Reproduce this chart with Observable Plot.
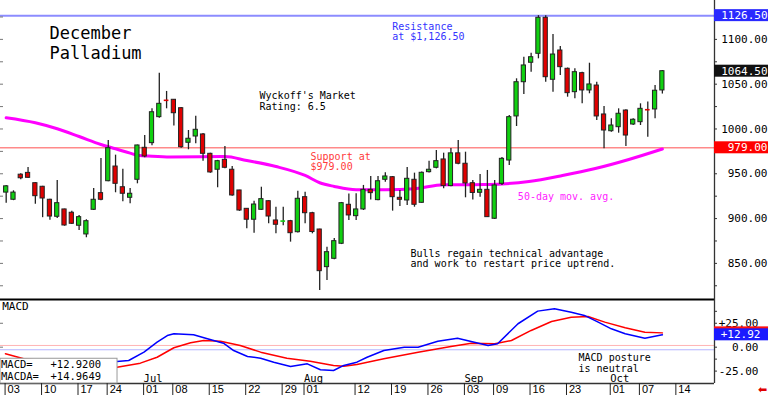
<!DOCTYPE html>
<html><head><meta charset="utf-8">
<script src="https://cdn.jsdelivr.net/npm/d3@7"></script>
<script src="https://cdn.jsdelivr.net/npm/@observablehq/plot@0.6"></script>
<style>
body{margin:0;background:#fff;}
#chart{width:768px;height:395px;overflow:hidden;background:#fff;}
#chart svg{display:block;}
g[aria-label="title"] text{letter-spacing:1px;}
g[aria-label="note"] text{letter-spacing:0.25px;}
g[aria-label="axis-labels"] text{letter-spacing:0.6px;}
g[aria-label="legend"] text{letter-spacing:0.9px;}
</style></head><body><div id="chart"></div>
<script>
// ---- Data: daily candles, trading-day index 0..90 (Jun 3 .. Oct 10, 2019) ----
const opens  = [929,921,949,951,939.5,935.5,921,902,910.2,906.5,892,882.3,909.8,928.4,941.7,958.1,935,923.2,943.3,979,
                984.2,1013.2,1033,1032.6,1023.2,984.6,991.6,993.9,972.3,954.5,965.6,954.5,931.4,910.9,898.7,909.8,919.4,897.9,896.6,897.1,
                884.8,923.9,906,887.8,845.8,855.1,871.9,915.4,902.7,910.2,932.1,920.6,943.3,946.2,923.2,920.2,943.3,917.6,951.8,956.7,
                966,936.3,972.8,961.2,939.5,928.8,932.1,899.8,938.8,964.8,1014,1052.2,1073.9,1083.9,1124.1,1054.9,1087.6,1067.2,1041.1,1062.3,
                1043,1048.5,1016.2,997.5,1002,1020.6,1005,1007.6,1022.5,1021.8,1043];
const highs  = [937,931,950,957,940,936,921.5,942.5,910.5,908.3,903.5,898.7,933.6,967.1,987.2,970.8,955.1,933.6,982,992.7,
                1022.5,1062.3,1041.9,1033,1024,998.3,1014.3,995,973,965,980.5,958.2,931.5,911,919.4,935,920,912.7,912.7,898,
                930.6,929.5,907,888,868.1,877.8,918,927.4,927.7,937,947,947,951.1,947,931.4,957,950.7,952,964.1,976,
                973,978.2,987.2,974.1,942.5,949.2,953.7,942.5,968.2,1015,1056,1080.1,1084.6,1126.5,1126.5,1105.5,1092,1068,1067.2,1063.4,
                1073.4,1052.2,1025.1,1011.4,1022.5,1021.4,1011.4,1028.1,1030,1048.5,1065.3];
const lows   = [917,920,943.3,945,916,901,898,900,891.5,893.4,886.7,878.6,909,920,941,928.8,918.8,916.5,938.8,967.9,
                981.3,1012,1022.5,1003.3,978.5,976.8,983.5,964.1,950.5,934.4,955.5,925,908,888.6,883.7,909,894.2,883,892,873.7,
                884,894.2,883,819.8,830.9,854,871,897.9,897.9,909,920.6,920,940.6,908.3,913.5,914.6,912.7,917,951,955.5,
                933.3,935.5,960,923.2,920.6,923.9,901.5,899,937,959.3,1002.8,1038.5,1063.4,1078.3,1052.2,1041.1,1059.7,1035.5,1033.7,1028.1,
                1039.3,1009.5,977.9,996.4,995.3,980.5,1003.9,1003.9,990.9,1011.4,1039];
const closes = [936,929,945,945.5,925,922.4,902.3,917.2,892.3,894.2,901.6,897.1,921,921,978.6,938.8,927.7,927.7,981.6,969.3,
                1018.7,1028.1,1032,1017.6,979.7,989.1,999.1,972.3,951.5,964.1,956.7,925.8,909,898.7,915.7,921.7,902.3,893.1,897.2,883.7,
                922.1,906,885,841.3,862.5,874.8,917.2,903.5,910.2,932.1,928.4,941.7,947,923.9,921,944.4,915.4,951.1,954.5,964.1,
                936.3,972.8,961.2,939.2,928.6,932.1,901.6,937,966.7,1013.2,1052.2,1070.9,1080.1,1124.1,1057.8,1083.1,1069,1040,1063.4,1043,
                1049.7,1014,998.3,1003.9,1017,992.7,1010.3,1022.5,1021.5,1042.7,1064.5];

// 50-day moving average, read at sample days
const maIdx = [0,4,7,10,13,15,17,18,20,22.5,30,33,37,41,43,45,48,52,56,60,65.5,68,71.7,76.3,80.8,85.4,90];
const maVal = [1012.5,1006.9,1000.2,991.6,982.7,977.9,973,970.8,969.6,968.8,969.3,964.8,958.1,948.1,940,935.9,932.1,932.1,933.3,937.7,938,938.6,941.4,948.1,955.9,966,977.7];

// MACD (blue) and MACD average (red), read at sample days
const macdIdx = [15.2,16.8,18.9,20.7,22.1,23.0,25.7,27.6,29.8,31.2,33.1,34.9,36.7,39.0,41.3,43.1,44.9,46.3,48.1,49.5,51.8,54.6,56.5,59.2,61.9,64.2,66.1,67.4,70.2,72.9,75.2,77.5,79.3,81.2,83.0,84.9,87.6,90];
const macdVal = [-15.0,-13.9,-5.2,5.2,12.2,14.0,13.0,8.8,4.2,-3.5,-9.7,-11.5,-15.7,-20.2,-17.4,-23.6,-24.4,-19.1,-15.7,-10.5,-3.5,0,0,6.3,9.4,5.2,1.8,3.6,24.5,37.7,40.2,36.6,33.2,26.2,19.2,14.0,9.4,12.92];
const sigIdx = [-0.1,2.4,15.2,18.4,20.7,23.0,25.3,27.1,29.4,32.1,34.9,38.5,41.7,44.9,46.3,48.1,51.8,56.5,61.0,63.8,67.0,69.3,72.0,74.8,77.5,79.8,82.1,84.9,87.6,90];
const sigVal = [-6.9,-12.1,-20.9,-16.7,-10.5,-0.6,4.6,7.0,6.3,1.8,-5.2,-11.5,-14.6,-19.1,-19.9,-18.1,-12.1,-5.2,0.7,4.2,3.6,7.0,17.5,26.9,31.4,32.1,26.2,20.3,15.7,14.96];

// Axis labels
const dayLabels = ["03","10","17","24","01","08","15","22","29","01","12","19","26","03","09","16","23","01","07","14"];
const dayIdx    = [0,5,10,14,19,23,28,33,38,41,48,53,58,63,67,72,77,83,87,92];
const monthLabels = ["Jul","Aug","Sep","Oct"];
const monthIdx    = [19,41,63,83];
const priceTicks = [1100,1050,1000,950,900,850];
const macdTicks = [25,0,-25];

const resistance = 1126.5, support = 979, lastPrice = 1064.5;
const macdNow = 12.92, macdaNow = 14.9649;

// ---- Layout constants ----
const X_DOMAIN = [-0.78, 97.15];
const xMin = X_DOMAIN[0], xMax = X_DOMAIN[1];
const pxPerIdx = 714 / (xMax - xMin);
const xEnd = xMax + 54 / pxPerIdx;
const PY = [810.8, 1143.4];
const pxPerPrice = 298 / (PY[1] - PY[0]);
const MY = [-37.97, 50.9];
const pxPerMacd = 85 / (MY[1] - MY[0]);
const MONO = "'DejaVu Sans Mono', monospace";
const UP = "#10d010", DOWN = "#e00000";

const candles = opens.map((o, i) => ({i, o, h: highs[i], l: lows[i], c: closes[i]}));
const bodies = candles.filter(d => Math.abs(d.c - d.o) >= 1.2);
const dojis = candles.filter(d => Math.abs(d.c - d.o) < 1.2);
const ma = maIdx.map((x, k) => ({x, y: maVal[k]}));
const macd = macdIdx.map((x, k) => ({x, y: macdVal[k]}));
const sig = sigIdx.map((x, k) => ({x, y: sigVal[k]}));

const hl = [
  {v: resistance, fill: "#2a2aff", label: resistance.toFixed(2)},
  {v: lastPrice, fill: "#111111", label: lastPrice.toFixed(2)},
  {v: support, fill: "#ff0000", label: support.toFixed(2)}
];
const hH = 6 / pxPerPrice;

function note(t, x, y, o = {}) {
  return Plot.text([t], {x, y, text: d => d, textAnchor: "start", lineAnchor: "top",
    fontFamily: MONO, fontSize: 10, lineHeight: 1.02, fill: "#000", ariaLabel: "note", ...o});
}

const main = Plot.plot({
  width: 768, height: 298, marginTop: 0, marginBottom: 0, marginLeft: 0, marginRight: 54,
  x: {domain: X_DOMAIN, axis: null},
  y: {domain: PY, axis: null},
  style: {background: "white", fontFamily: MONO, overflow: "visible"},
  marks: [
    Plot.ruleY([support], {stroke: "#ff8a8a", strokeWidth: 1.5}),
    Plot.ruleY([resistance], {stroke: "#8c8cff", strokeWidth: 2}),
    Plot.ruleY(d3.range(825, 1126, 25), {x1: xMin, x2: xMin, insetRight: -3, stroke: "#777"}),
    Plot.ruleY(d3.range(825, 1126, 25), {x1: xMax, x2: xMax, insetRight: -3, stroke: "#333"}),
    Plot.line(ma, {x: "x", y: "y", stroke: "#ff00ff", strokeWidth: 3, curve: "monotone-x"}),
    Plot.ruleX(candles, {x: "i", y1: "l", y2: "h", stroke: "#222", strokeWidth: 1.3}),
    Plot.rect(bodies, {x1: d => d.i - 0.29, x2: d => d.i + 0.29, y1: "o", y2: "c",
      fill: d => d.c > d.o ? UP : DOWN, stroke: "#222", strokeWidth: 1}),
    Plot.ruleY(dojis, {y: "c", x1: d => d.i - 0.32, x2: d => d.i + 0.32,
      stroke: d => d.c >= d.o ? UP : DOWN, strokeWidth: 1.6}),
    Plot.ruleX([xMax], {stroke: "#333", strokeWidth: 1.3}),
    Plot.text(priceTicks, {x: xMax, y: d => d, text: d => d.toFixed(2), dx: 53, textAnchor: "end",
      fontFamily: MONO, fontSize: 11, fill: "#000", ariaLabel: "axis-labels"}),
    Plot.rect(hl, {x1: xMax, x2: xEnd, y1: d => d.v - hH, y2: d => d.v + hH, fill: "fill"}),
    Plot.text(hl, {x: xMax, y: "v", text: "label", dx: 53, textAnchor: "end",
      fontFamily: MONO, fontSize: 11, fill: "#fff", ariaLabel: "axis-labels"}),
    note("December\nPalladium", 5.94, 1115.6, {fontSize: 17, lineHeight: 1.14, ariaLabel: "title"}),
    note("Wyckoff's Market\nRating: 6.5", 34.75, 1041.0),
    note("Resistance\nat $1,126.50", 52.95, 1119.0, {fill: "#3434ff"}),
    note("Support at\n$979.00", 41.74, 974.0, {fill: "#ff3a3a"}),
    note("50-day mov. avg.", 70.18, 929.0, {fill: "#ff22ff"}),
    note("Bulls regain technical advantage\nand work to restart price uptrend.", 55.46, 865.8, {lineHeight: 1.06})
  ]
});

const mhl = [
  {v: macdaNow, fill: "#ff1010", label: ""},
  {v: macdNow, fill: "#1a1aff", label: "+" + macdNow.toFixed(2)}
];
const mH = 6 / pxPerMacd;

const lower = Plot.plot({
  width: 768, height: 97, marginTop: 0, marginBottom: 12, marginLeft: 0, marginRight: 54,
  x: {domain: X_DOMAIN, axis: null},
  y: {domain: MY, axis: null},
  style: {background: "white", fontFamily: MONO, overflow: "visible"},
  marks: [
    Plot.ruleY([1.8], {stroke: "#ffb4b4", strokeWidth: 1}),
    Plot.ruleY([-2.7], {stroke: "#b4b4ff", strokeWidth: 1}),
    Plot.line(sig, {x: "x", y: "y", stroke: "#ff0000", strokeWidth: 1.5}),
    Plot.line(macd, {x: "x", y: "y", stroke: "#0000ff", strokeWidth: 1.5}),
    Plot.ruleY([MY[1]], {stroke: "#000", strokeWidth: 2, dy: 1}),
    Plot.ruleY([MY[0]], {stroke: "#333", strokeWidth: 1.5}),
    Plot.ruleX([xMax], {stroke: "#333", strokeWidth: 1.3}),
    Plot.ruleY([25, 0], {x1: xMin, x2: xMin, insetRight: -3, stroke: "#777"}),
    Plot.ruleY([37.5, 25, 12.5, 0, -12.5, -25], {x1: xMax, x2: xMax, insetRight: -3, stroke: "#333"}),
    Plot.text(macdTicks, {x: xMax, y: d => d, text: d => (d > 0 ? "+" : "") + d.toFixed(2), dx: 44,
      textAnchor: "end", fontFamily: MONO, fontSize: 11, fill: "#000", ariaLabel: "axis-labels"}),
    Plot.rect(mhl, {x1: xMax, x2: xEnd, y1: d => d.v - mH, y2: d => d.v + mH, fill: "fill"}),
    Plot.text(mhl, {x: xMax, y: "v", text: "label", dx: 46, textAnchor: "end",
      fontFamily: MONO, fontSize: 11, fill: "#fff", ariaLabel: "axis-labels"}),
    note("MACD", -0.55, 47.3, {fontSize: 11}),
    note("MACD posture\nis neutral", 78.5, -7.2, {lineHeight: 1.03}),
    Plot.rect([0], {x1: xMin, x2: 15.27, y1: MY[0], y2: -12.1, fill: "#fff", stroke: "#999", strokeWidth: 1}),
    note("MACD=\nMACDA=", -0.71, -13.2, {fontSize: 10.5, lineHeight: 1.14, ariaLabel: "legend"}),
    note("+" + macdNow.toFixed(4) + "\n+" + macdaNow.toFixed(4), 6.08, -13.2, {fontSize: 10.5, lineHeight: 1.14, ariaLabel: "legend"}),
    Plot.text(monthLabels, {x: (d, k) => monthIdx[k] - 0.15, y: -28.8, text: d => d, textAnchor: "start",
      lineAnchor: "top", fontFamily: MONO, fontSize: 10.5, fill: "#000"}),
    Plot.ruleX(dayIdx, {x: d => d - 0.15, y1: MY[0], y2: MY[0] - 13, stroke: "#222", strokeWidth: 1}),
    Plot.text(dayLabels, {x: (d, k) => dayIdx[k] - 0.15, y: -39.6, dx: 2.5, text: d => d, textAnchor: "start",
      lineAnchor: "top", fontFamily: "'Liberation Sans', Arial, sans-serif", fontSize: 11, fill: "#000"}),
    Plot.text(["\u2B05"], {x: xMax, y: MY[0], dx: 48, dy: 6, text: d => d, fill: "#e00000",
      fontFamily: "'DejaVu Sans', sans-serif", fontSize: 11})
  ]
});

const root = document.getElementById("chart");
root.append(main, lower);
</script>
</body></html>
